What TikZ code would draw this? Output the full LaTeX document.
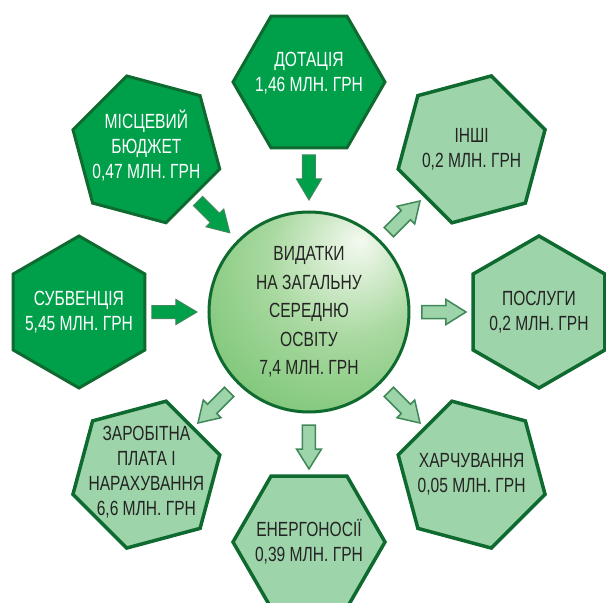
\documentclass[tikz,border=0pt]{standalone}
\usepackage{fontspec}
\newfontfamily\narrowfont{Liberation Sans}[FakeStretch=0.76]
\usetikzlibrary{calc,shapes.geometric}

\definecolor{darkfill}{HTML}{00A04B}
\definecolor{lightfill}{HTML}{9ED4AA}
\definecolor{rimgreen}{HTML}{0F6A30}
\definecolor{inktext}{HTML}{242424}
\definecolor{bubin}{HTML}{F4F9F0}
\definecolor{bubmid}{HTML}{A9D9A0}
\definecolor{bubout}{HTML}{5AB657}
\pgfdeclareradialshading{bubble}{\pgfpoint{13bp}{18bp}}{%
  color(0bp)=(bubin); color(20bp)=(bubmid); color(55bp)=(bubout); color(80bp)=(bubout)}

\begin{document}
\begin{tikzpicture}[x=1pt, y=1pt,
    hexa/.style={regular polygon, regular polygon sides=6, minimum size=152pt,
      inner sep=0pt, draw=rimgreen, line width=3pt},
    src hex/.style={hexa, fill=darkfill},
    use hex/.style={hexa, fill=lightfill, line width=3.5pt},
    src txt/.style={text=white, align=center, font=\narrowfont\fontsize{20.5}{25}\selectfont},
    use txt/.style={text=inktext, align=center, font=\narrowfont\fontsize{20.5}{25}\selectfont},
    src arrow/.style={fill=darkfill, draw=rimgreen!80, line width=1pt, line join=miter},
    use arrow/.style={fill=lightfill, draw=rimgreen!80, line width=1.5pt, line join=miter}]

  \useasboundingbox (-309,-291) rectangle (297,312);

  % centre
  \node[circle, minimum size=200pt, inner sep=0pt, shading=bubble, draw=rimgreen,
    line width=3pt, text=inktext, align=center,
    font=\narrowfont\fontsize{20.5}{28.5}\selectfont] (core) at (0,0)
    {ВИДАТКИ\\НА ЗАГАЛЬНУ\\СЕРЕДНЮ\\ОСВІТУ\\7,4 МЛН. ГРН};

  % hexagons round the centre
  \foreach \ang/\nm/\kind/\dy/\txt in {%
    90/dot/src/9/{ДОТАЦІЯ\\1,46 МЛН. ГРН},%
    135/mis/src/4/{МІСЦЕВИЙ\\БЮДЖЕТ\\0,47 МЛН. ГРН},%
    180/sub/src/0/{СУБВЕНЦІЯ\\5,45 МЛН. ГРН},%
    45/inshi/use/0/{ІНШІ\\0,2 МЛН. ГРН},%
    0/posl/use/0/{ПОСЛУГИ\\0,2 МЛН. ГРН},%
    -45/harch/use/0/{ХАРЧУВАННЯ\\0,05 МЛН. ГРН},%
    -90/energ/use/0/{ЕНЕРГОНОСІЇ\\0,39 МЛН. ГРН},%
    -135/zarp/use/2/{ЗАРОБІТНА\\ПЛАТА І\\НАРАХУВАННЯ\\6,6 МЛН. ГРН}%
  }{
    \pgfmathsetmacro\rot{\ang+30}
    \node[\kind\space hex, shape border rotate=\rot] (\nm) at (\ang:230) {};
    \node[\kind\space txt, yshift=\dy] (\nm-txt) at (\nm) {\txt};
  }

  % incoming money
  \foreach \nm/\ang in {dot/90, mis/135, sub/180}{
    \draw[src arrow, shift={($(core)!157pt!(\nm)$)}, rotate=\ang+180]
      (0,-6.5) -- (24,-6.5) -- (24,-12.5) -- (45,0) -- (24,12.5) -- (24,6.5) -- (0,6.5) -- cycle;
  }

  % outgoing spending
  \foreach \nm/\ang in {inshi/45, posl/0, harch/-45, energ/-90, zarp/-135}{
    \draw[use arrow, shift={($(core)!113pt!(\nm)$)}, rotate=\ang]
      (0,-6.5) -- (24,-6.5) -- (24,-12.5) -- (44,0) -- (24,12.5) -- (24,6.5) -- (0,6.5) -- cycle;
  }
\end{tikzpicture}
\end{document}
